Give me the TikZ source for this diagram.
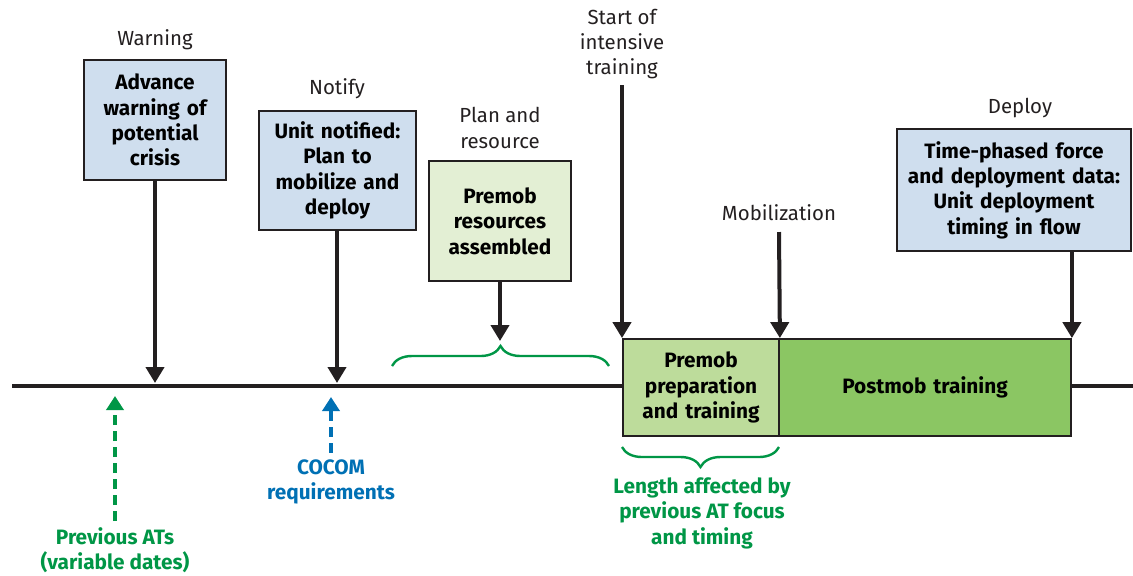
\documentclass[tikz,border=0pt]{standalone}
\usepackage{fontspec}
\setmainfont{Fira Sans}
\usetikzlibrary{arrows.meta,decorations.pathreplacing}
\definecolor{BoxBlue}{RGB}{207,222,238}
\definecolor{BoxMint}{RGB}{227,239,212}
\definecolor{PreGreen}{RGB}{189,220,155}
\definecolor{PostGreen}{RGB}{139,198,99}
\definecolor{TextGreen}{RGB}{0,150,70}
\definecolor{TextBlue}{RGB}{0,112,180}
\definecolor{LineGray}{RGB}{35,31,32}

\tikzset{
  event/.style={draw=LineGray, line width=0.9pt, inner sep=0pt, align=center,
    font=\fontsize{10.4}{12.7}\selectfont\bfseries},
  tag/.style={align=center, font=\fontsize{10.2}{12.7}\selectfont, text=LineGray},
  note/.style={align=center, font=\fontsize{10.4}{12.7}\selectfont\bfseries},
  hit/.style={LineGray, line width=2pt, -{Triangle[length=8pt,width=9pt]}},
  hint/.style={line width=2pt, dash pattern=on 5pt off 3pt, -{Triangle[length=7pt,width=8.5pt]}},
  curly/.style={TextGreen, line width=1.2pt, decorate, decoration={brace, amplitude=10pt}}
}

\begin{document}
\begin{tikzpicture}[x=0.5pt, y=-0.5pt]
    \useasboundingbox (0,0) rectangle (1133,575);

    % Timeline
    \coordinate (t0) at (12,386);
    \coordinate (t1) at (1133,386);

    % Bars on the timeline
    \node[event, fill=PreGreen, minimum width=78pt, minimum height=48.5pt, text width=74pt] (pre) at (701,387.5) {Premob\\preparation\\and training};
    \node[event, fill=PostGreen, minimum width=146pt, minimum height=48.5pt, text width=140pt] (post) at (925,387.5) {Postmob training};
    \draw[LineGray, line width=2.2pt] (t0) -- (pre.west |- t0);
    \draw[LineGray, line width=2.2pt] (post.east |- t1) -- (t1);

    % Upper boxes
    \node[event, fill=BoxBlue, minimum width=71pt, minimum height=60pt, text width=67pt] (warn) at (155,120) {Advance\\warning of\\potential\\crisis};
    \node[event, fill=BoxBlue, minimum width=78.5pt, minimum height=59.5pt, text width=75pt] (notify) at (337.5,170.5) {Unit notified:\\Plan to\\mobilize and\\deploy};
    \node[event, fill=BoxMint, minimum width=71pt, minimum height=60pt, text width=67pt] (plan) at (500,221) {Premob\\resources\\assembled};
    \node[event, fill=BoxBlue, minimum width=117pt, minimum height=61pt, text width=115pt] (deploy) at (1014,190) {Time-phased force\\and deployment data:\\Unit deployment\\timing in flow};

    % Labels above
    \node[tag] (warnlbl) at (155,40) {Warning};
    \node[tag] (notifylbl) at (337,89) {Notify};
    \node[tag] (planlbl) at (500,128) {Plan and\\resource};
    \node[tag] (startlbl) at (622,44) {Start of\\intensive\\training};
    \node[tag] (moblbl) at (779,213) {Mobilization};
    \node[tag] (deploylbl) at (1020,108) {Deploy};

    % Points on the timeline
    \coordinate (warnhit) at (155,383);
    \coordinate (notifyhit) at (337,383);
    \coordinate (planhit) at (500,341);
    \coordinate (starthit) at (622,85);
    \coordinate (mobhit) at (779,232);

    % Arrows down
    \draw[hit] (warn.south) -- (warnhit);
    \draw[hit] (notify.south -| notifyhit) -- (notifyhit);
    \draw[hit] (plan.south) -- (planhit);
    \draw[hit] (starthit) -- (starthit |- pre.north);
    \draw[hit] (mobhit) -- (pre.north east);
    \draw[hit] (deploy.south -| post.north east) -- (post.north east);

    % Braces
    \draw[curly] (392,366) -- (609,366);
    \draw[curly] (779,447) -- (622,447);

    % Notes below
    \node[note, text=TextGreen] (lenlbl) at (702,513) {Length affected by\\previous AT focus\\and timing};
    \node[note, text=TextGreen] (prevlbl) at (115,550) {Previous ATs\\(variable dates)};
    \node[note, text=TextBlue] (cocomlbl) at (331,482) {COCOM\\requirements};
    \coordinate (prevhit) at (115,396);
    \coordinate (cocomhit) at (331,397);
    \draw[hint, TextGreen] (prevlbl.north |- 0,521) -- (prevhit);
    \draw[hint, TextBlue] (cocomlbl.north) -- (cocomhit);
\end{tikzpicture}
\end{document}
